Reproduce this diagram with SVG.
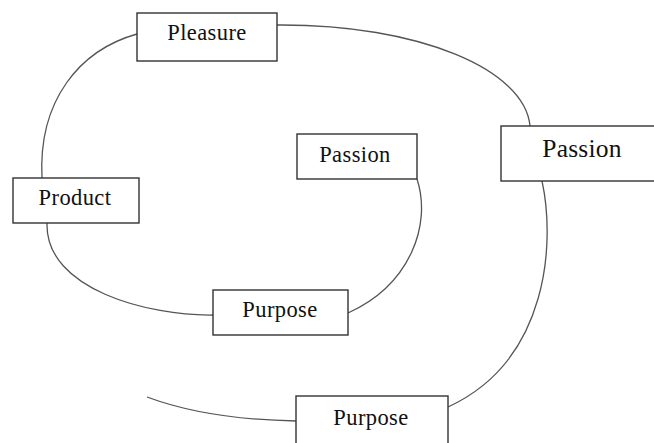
<svg xmlns="http://www.w3.org/2000/svg" width="654" height="443" viewBox="0 0 654 443">
  <style>
    .box { fill: #ffffff; stroke: #333333; stroke-width: 1.4; }
    .link { fill: none; stroke: #555555; stroke-width: 1.3; }
    .lbl { font-size: 22.5px; letter-spacing: 0.4px; fill: #111111; text-anchor: middle; }
    .big { font-size: 25.5px; letter-spacing: 0.2px; }
  </style>
  <rect width="654" height="443" fill="#ffffff"/>

  <g id="connectors">
    <path class="link" d="M137,34 C 80,50 38,100 42,178"/>
    <path class="link" d="M277,25 C 420,24 525,70 530,126"/>
    <path class="link" d="M47,223 C 45,290 150,316 213,315"/>
    <path class="link" d="M417,179 C 432,225 410,285 348,313"/>
    <path class="link" d="M542,181 C 555,240 550,360 448,407"/>
    <path class="link" d="M147,397 C 190,413 240,420 296,421"/>
  </g>

  <g font-family="'Liberation Serif', 'DejaVu Serif', serif">
    <g id="pleasure">
      <rect class="box" x="137" y="13" width="140" height="48"/>
      <text class="lbl" x="207" y="40">Pleasure</text>
    </g>

    <g id="product">
      <rect class="box" x="13" y="178" width="126" height="45"/>
      <text class="lbl" x="75" y="205">Product</text>
    </g>

    <g id="passion-inner">
      <rect class="box" x="297" y="134" width="120" height="45"/>
      <text class="lbl" x="355" y="162">Passion</text>
    </g>

    <g id="passion-outer">
      <rect class="box" x="501" y="126" width="160" height="55"/>
      <text class="lbl big" x="582" y="157">Passion</text>
    </g>

    <g id="purpose-inner">
      <rect class="box" x="213" y="290" width="135" height="45"/>
      <text class="lbl" x="280" y="317">Purpose</text>
    </g>

    <g id="purpose-outer">
      <rect class="box" x="296" y="396" width="152" height="60"/>
      <text class="lbl" x="371" y="425">Purpose</text>
    </g>
  </g>
</svg>
